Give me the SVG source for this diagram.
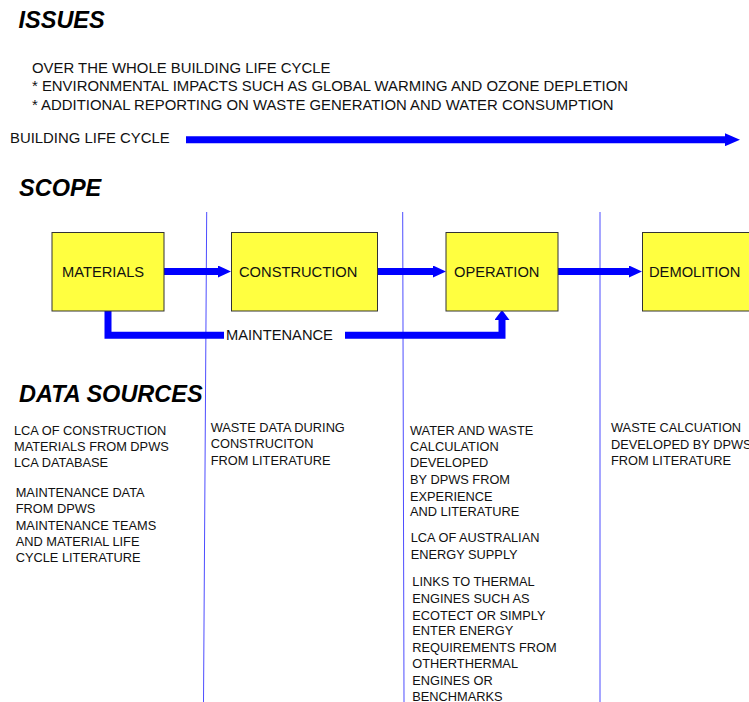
<svg xmlns="http://www.w3.org/2000/svg" width="749" height="702" viewBox="0 0 749 702">
<style>
  text { font-family: "Liberation Sans", Arial, sans-serif; fill: #111; }
  .h { font-size: 23.5px; font-weight: bold; font-style: italic; fill: #000; }
  .t { font-size: 14.9px; }
  .b { font-size: 14.7px; }
  .d { font-size: 12.8px; }
  .box { fill: #ffff40; stroke: #333; stroke-width: 1; }
  .arr { stroke: #0000ff; fill: none; stroke-width: 7; }
  .div { stroke: #4d4dff; stroke-width: 1; }
</style>
<defs>
  <marker id="ah" markerUnits="userSpaceOnUse" markerWidth="13" markerHeight="12" refX="0" refY="6" orient="auto">
    <path d="M0,0 L13,6 L0,12 z" fill="#0000ff"/>
  </marker>
  <marker id="ahBig" markerUnits="userSpaceOnUse" markerWidth="15" markerHeight="13" refX="0" refY="6.5" orient="auto">
    <path d="M0,0 L15,6.5 L0,13 z" fill="#0000ff"/>
  </marker>
  <marker id="ahUp" markerUnits="userSpaceOnUse" markerWidth="10" markerHeight="15" refX="0" refY="7.5" orient="auto">
    <path d="M0,0 L10,7.5 L0,15 z" fill="#0000ff"/>
  </marker>
</defs>
<rect width="749" height="702" fill="#fff"/>

<g id="issues">
  <text class="h" x="18.5" y="28.3">ISSUES</text>
  <text class="t" x="32" y="72.5">OVER THE WHOLE BUILDING LIFE CYCLE</text>
  <text class="t" x="32" y="91.3">* ENVIRONMENTAL IMPACTS SUCH AS GLOBAL WARMING AND OZONE DEPLETION</text>
  <text class="t" x="32" y="110">* ADDITIONAL REPORTING ON WASTE GENERATION AND WATER CONSUMPTION</text>
  <text class="t" x="10" y="143.3">BUILDING LIFE CYCLE</text>
</g>

<g id="dividers">
  <line class="div" x1="206.7" y1="212" x2="203.5" y2="702"/>
  <line class="div" x1="402.7" y1="212" x2="404" y2="702"/>
  <line class="div" x1="600" y1="212" x2="600" y2="702"/>
</g>

<g id="connectors">
  <line class="arr" x1="186" y1="139.7" x2="725" y2="139.7" marker-end="url(#ahBig)"/>
  <line class="arr" x1="164" y1="271.5" x2="218" y2="271.5" marker-end="url(#ah)"/>
  <line class="arr" x1="378" y1="271.5" x2="433" y2="271.5" marker-end="url(#ah)"/>
  <line class="arr" x1="558" y1="271.5" x2="629" y2="271.5" marker-end="url(#ah)"/>
  <polyline class="arr" points="108,311 108,335.3 502,335.3 502,320" marker-end="url(#ahUp)"/>
  <rect x="224" y="327" width="121" height="16" fill="#fff"/>
  <text class="b" x="226" y="340">MAINTENANCE</text>
</g>

<text class="h" x="19" y="196">SCOPE</text>

<g id="materials">
  <rect class="box" x="52" y="232.5" width="112" height="78.5"/>
  <text class="b" x="62" y="277">MATERIALS</text>
</g>
<g id="construction">
  <rect class="box" x="231.5" y="232.5" width="146" height="78.5"/>
  <text class="b" x="239" y="277">CONSTRUCTION</text>
</g>
<g id="operation">
  <rect class="box" x="446" y="232.5" width="112" height="78.5"/>
  <text class="b" x="454" y="277">OPERATION</text>
</g>
<g id="demolition">
  <rect class="box" x="642.5" y="232.5" width="120" height="78.5"/>
  <text class="b" x="649" y="277">DEMOLITION</text>
</g>

<g id="data-sources">
  <text class="h" x="19" y="402">DATA SOURCES</text>
  <text class="d">
    <tspan x="14" y="434.5">LCA OF CONSTRUCTION</tspan>
    <tspan x="14" y="450.8">MATERIALS FROM DPWS</tspan>
    <tspan x="14" y="467">LCA DATABASE</tspan>
  </text>
  <text class="d">
    <tspan x="15.7" y="497">MAINTENANCE DATA</tspan>
    <tspan x="15.7" y="513">FROM DPWS</tspan>
    <tspan x="15.7" y="529.5">MAINTENANCE TEAMS</tspan>
    <tspan x="15.7" y="545.5">AND MATERIAL LIFE</tspan>
    <tspan x="15.7" y="561.8">CYCLE LITERATURE</tspan>
  </text>
  <text class="d">
    <tspan x="210.7" y="431.8">WASTE DATA DURING</tspan>
    <tspan x="210.7" y="448">CONSTRUCITON</tspan>
    <tspan x="210.7" y="464.5">FROM LITERATURE</tspan>
  </text>
  <text class="d">
    <tspan x="410" y="435.2">WATER AND WASTE</tspan>
    <tspan x="410" y="451.2">CALCULATION</tspan>
    <tspan x="410" y="467.2">DEVELOPED</tspan>
    <tspan x="410" y="483.8">BY DPWS FROM</tspan>
    <tspan x="410" y="500.5">EXPERIENCE</tspan>
    <tspan x="410" y="516.2">AND LITERATURE</tspan>
  </text>
  <text class="d">
    <tspan x="410.7" y="541.8">LCA OF AUSTRALIAN</tspan>
    <tspan x="410.7" y="558.8">ENERGY SUPPLY</tspan>
  </text>
  <text class="d">
    <tspan x="412.3" y="586.2">LINKS TO THERMAL</tspan>
    <tspan x="412.3" y="603.2">ENGINES SUCH AS</tspan>
    <tspan x="412.3" y="619.5">ECOTECT OR SIMPLY</tspan>
    <tspan x="412.3" y="635.2">ENTER ENERGY</tspan>
    <tspan x="412.3" y="651.8">REQUIREMENTS FROM</tspan>
    <tspan x="412.3" y="667.8">OTHERTHERMAL</tspan>
    <tspan x="412.3" y="684.5">ENGINES OR</tspan>
    <tspan x="412.3" y="700.5">BENCHMARKS</tspan>
  </text>
  <text class="d">
    <tspan x="611" y="431.8">WASTE CALCUATION</tspan>
    <tspan x="611" y="448.5">DEVELOPED BY DPWS</tspan>
    <tspan x="611" y="465.2">FROM LITERATURE</tspan>
  </text>
</g>
</svg>
